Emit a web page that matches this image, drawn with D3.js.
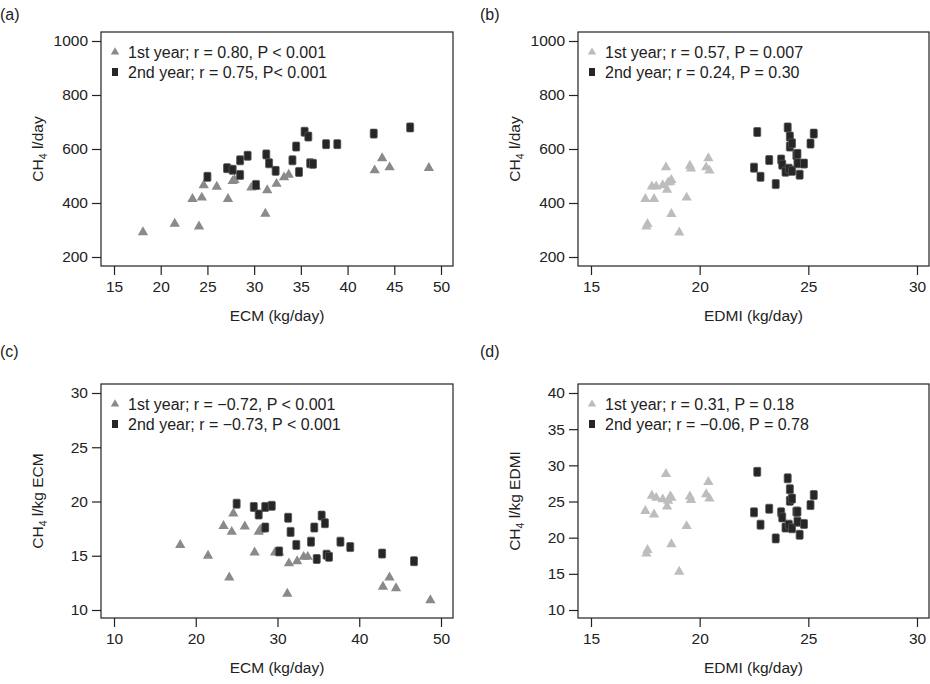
<!DOCTYPE html>
<html lang="en">
<head>
<meta charset="UTF-8">
<style>
body { margin: 0; background: #fff; }
svg text { font-family: "Liberation Sans", Arial, sans-serif; fill: #222; }
</style>
</head>
<body>
<svg id="fig" width="930" height="684"></svg>
<script src="https://cdn.jsdelivr.net/npm/d3@7/dist/d3.min.js"></script>
<script>
"use strict";

// ECM (kg/day) per animal
var ECM_Y1 = [18.1, 21.5, 23.4, 24.4, 24.1, 24.6, 26.0, 27.2, 27.7, 27.9, 29.7,
              30.2, 31.2, 31.4, 32.4, 33.2, 33.7, 42.9, 43.7, 44.5, 48.7];
var CH4_ECM_Y1 = [292, 323, 415, 420, 313, 466, 460, 415, 481, 485, 457,
                  461, 360, 447, 471, 495, 505, 521, 566, 532, 530];
var PER_ECM_Y1 = [16.0, 15.0, 17.75, 17.2, 13.0, 18.9, 17.7, 15.3, 17.2, 17.4, 15.3,
                  15.3, 11.5, 14.3, 14.5, 14.9, 14.9, 12.15, 13.0, 12.0, 10.9];
var ECM_Y2 = [25.0, 27.1, 27.7, 28.5, 28.5, 29.3, 30.2, 31.3, 31.6, 32.3, 34.1,
              34.5, 34.8, 35.4, 35.8, 36.0, 36.3, 37.7, 38.9, 42.8, 46.7];
var CH4_ECM_Y2 = [497, 529, 523, 558, 504, 575, 467, 580, 547, 519, 558,
                  609, 515, 664, 646, 547, 545, 618, 618, 657, 680];
var PER_ECM_Y2 = [19.8, 19.5, 18.8, 19.5, 17.6, 19.6, 15.4, 18.5, 17.2, 16.0, 16.3,
                  17.6, 14.7, 18.7, 18.0, 15.1, 14.9, 16.3, 15.8, 15.2, 14.5];

// EDMI (kg/day) per animal
var EDMI_Y1 = [17.5, 17.55, 17.6, 17.8, 17.9, 18.0, 18.3, 18.45, 18.5, 18.55,
               18.65, 18.7, 18.7, 19.06, 19.4, 19.55, 19.6, 20.3, 20.4, 20.45];
var CH4_EDMI_Y1 = [415, 313, 322, 461, 415, 461, 466, 532, 449, 476,
                   479, 485, 359, 291, 420, 538, 528, 532, 566, 520];
var PER_EDMI_Y1 = [23.7, 17.8, 18.3, 25.8, 23.2, 25.5, 25.3, 28.8, 24.3, 25.1,
                   25.7, 25.5, 19.1, 15.3, 21.6, 25.7, 25.2, 26.0, 27.7, 25.4];
var EDMI_Y2 = [22.5, 22.65, 22.8, 23.2, 23.5, 23.75, 23.8, 23.95, 24.05, 24.1, 24.15,
               24.15, 24.25, 24.25, 24.45, 24.5, 24.5, 24.6, 24.8, 25.1, 25.25];
var CH4_EDMI_Y2 = [531, 663, 497, 559, 470, 561, 542, 516, 680, 527, 646,
                   609, 621, 519, 577, 547, 582, 505, 546, 620, 657];
var PER_EDMI_Y2 = [23.5, 29.1, 21.8, 24.0, 19.9, 23.5, 22.8, 21.4, 28.2, 21.8, 26.7,
                   25.1, 25.4, 21.3, 23.6, 22.2, 23.6, 20.4, 21.9, 24.5, 25.9];

var LEGEND_A = ['1st year; r = 0.80, P < 0.001', '2nd year; r = 0.75, P< 0.001'];
var LEGEND_B = ['1st year; r = 0.57, P = 0.007', '2nd year; r = 0.24, P = 0.30'];
var LEGEND_C = ['1st year; r = \u22120.72, P < 0.001', '2nd year; r = \u22120.73, P < 0.001'];
var LEGEND_D = ['1st year; r = 0.31, P = 0.18', '2nd year; r = \u22120.06, P = 0.78'];

var svg = d3.select('#fig');
var tri = d3.symbol().type(d3.symbolTriangle).size(46);

function panel(o) {
  var g = svg.append('g');
  var x = d3.scaleLinear().domain(o.xdom).range(o.xr);
  var y = d3.scaleLinear().domain(o.ydom).range(o.yr);
  g.append('rect').attr('x', o.box[0]).attr('y', o.box[1])
    .attr('width', o.box[2] - o.box[0]).attr('height', o.box[3] - o.box[1])
    .attr('fill', 'none').attr('stroke', '#222').attr('stroke-width', 1.2);
  var xa = g.append('g').attr('transform', 'translate(0,' + o.box[3] + ')')
    .call(d3.axisBottom(x).tickValues(o.xt).tickFormat(d3.format('d')).tickSize(9).tickPadding(6));
  var ya = g.append('g').attr('transform', 'translate(' + o.box[0] + ',0)')
    .call(d3.axisLeft(y).tickValues(o.yt).tickFormat(d3.format('d')).tickSize(9).tickPadding(4));
  [xa, ya].forEach(function(a) {
    a.select('.domain').remove();
    a.selectAll('line').attr('stroke', '#222').attr('stroke-width', 1.2);
    a.selectAll('text').style('font-size', '15.5px').attr('fill', '#222');
  });
  g.append('text').attr('x', o.lab[0]).attr('y', o.lab[1])
    .style('font-size', '16px').text(o.name);
  g.append('text').attr('x', (o.box[0] + o.box[2]) / 2).attr('y', o.box[3] + 55)
    .attr('text-anchor', 'middle').style('font-size', '15.5px').text(o.xlabel);
  var yl = g.append('text')
    .attr('transform', 'translate(' + (o.box[0] - 58) + ',' + ((o.box[1] + o.box[3]) / 2) + ') rotate(-90)')
    .attr('text-anchor', 'middle').style('font-size', '15.5px');
  yl.append('tspan').text('CH');
  yl.append('tspan').attr('dy', 4).style('font-size', '10.5px').text('4');
  yl.append('tspan').attr('dy', -4).text(' ' + o.yunit);

  g.selectAll('path.t').data(o.x1).enter().append('path')
    .attr('transform', function(d, i) { return 'translate(' + x(d) + ',' + y(o.y1[i]) + ')'; })
    .attr('d', tri).attr('fill', o.c1);
  g.selectAll('rect.s').data(o.x2).enter().append('rect')
    .attr('x', function(d) { return x(d) - 3.5; })
    .attr('y', function(d, i) { return y(o.y2[i]) - 4.5; })
    .attr('width', 7).attr('height', 9).attr('rx', 1)
    .attr('fill', '#262626').attr('stroke', '#555').attr('stroke-width', 0.8);

  var lx = o.box[0] + 14, ly = o.box[1] + 20;
  g.append('path').attr('transform', 'translate(' + lx + ',' + ly + ')')
    .attr('d', d3.symbol().type(d3.symbolTriangle).size(30)).attr('fill', o.c1);
  g.append('rect').attr('x', lx - 3).attr('y', ly + 20 - 4).attr('width', 6).attr('height', 8)
    .attr('fill', '#262626');
  o.legend.forEach(function(t, i) {
    g.append('text').attr('x', lx + 13).attr('y', ly + 6 + i * 20)
      .style('font-size', '16px').text(t);
  });
}

panel({ name: '(a)', lab: [0, 20], box: [101, 32, 453, 266],
  xdom: [15, 50], xr: [114, 441], ydom: [200, 1000], yr: [257, 41],
  xt: [15, 20, 25, 30, 35, 40, 45, 50], yt: [200, 400, 600, 800, 1000],
  xlabel: 'ECM (kg/day)', yunit: 'l/day', c1: '#8a8a8a', legend: LEGEND_A,
  x1: ECM_Y1, y1: CH4_ECM_Y1, x2: ECM_Y2, y2: CH4_ECM_Y2 });
panel({ name: '(b)', lab: [480, 20], box: [578, 32, 929, 266],
  xdom: [15, 30], xr: [591, 917], ydom: [200, 1000], yr: [257, 41],
  xt: [15, 20, 25, 30], yt: [200, 400, 600, 800, 1000],
  xlabel: 'EDMI (kg/day)', yunit: 'l/day', c1: '#bdbdbd', legend: LEGEND_B,
  x1: EDMI_Y1, y1: CH4_EDMI_Y1, x2: EDMI_Y2, y2: CH4_EDMI_Y2 });
panel({ name: '(c)', lab: [0, 357], box: [101, 384, 453, 618],
  xdom: [10, 50], xr: [114, 441], ydom: [10, 30], yr: [610, 393],
  xt: [10, 20, 30, 40, 50], yt: [10, 15, 20, 25, 30],
  xlabel: 'ECM (kg/day)', yunit: 'l/kg ECM', c1: '#8a8a8a', legend: LEGEND_C,
  x1: ECM_Y1, y1: PER_ECM_Y1, x2: ECM_Y2, y2: PER_ECM_Y2 });
panel({ name: '(d)', lab: [480, 357], box: [578, 384, 929, 618],
  xdom: [15, 30], xr: [591, 917], ydom: [10, 40], yr: [610, 393],
  xt: [15, 20, 25, 30], yt: [10, 15, 20, 25, 30, 35, 40],
  xlabel: 'EDMI (kg/day)', yunit: 'l/kg EDMI', c1: '#bdbdbd', legend: LEGEND_D,
  x1: EDMI_Y1, y1: PER_EDMI_Y1, x2: EDMI_Y2, y2: PER_EDMI_Y2 });
</script>
</body>
</html>
